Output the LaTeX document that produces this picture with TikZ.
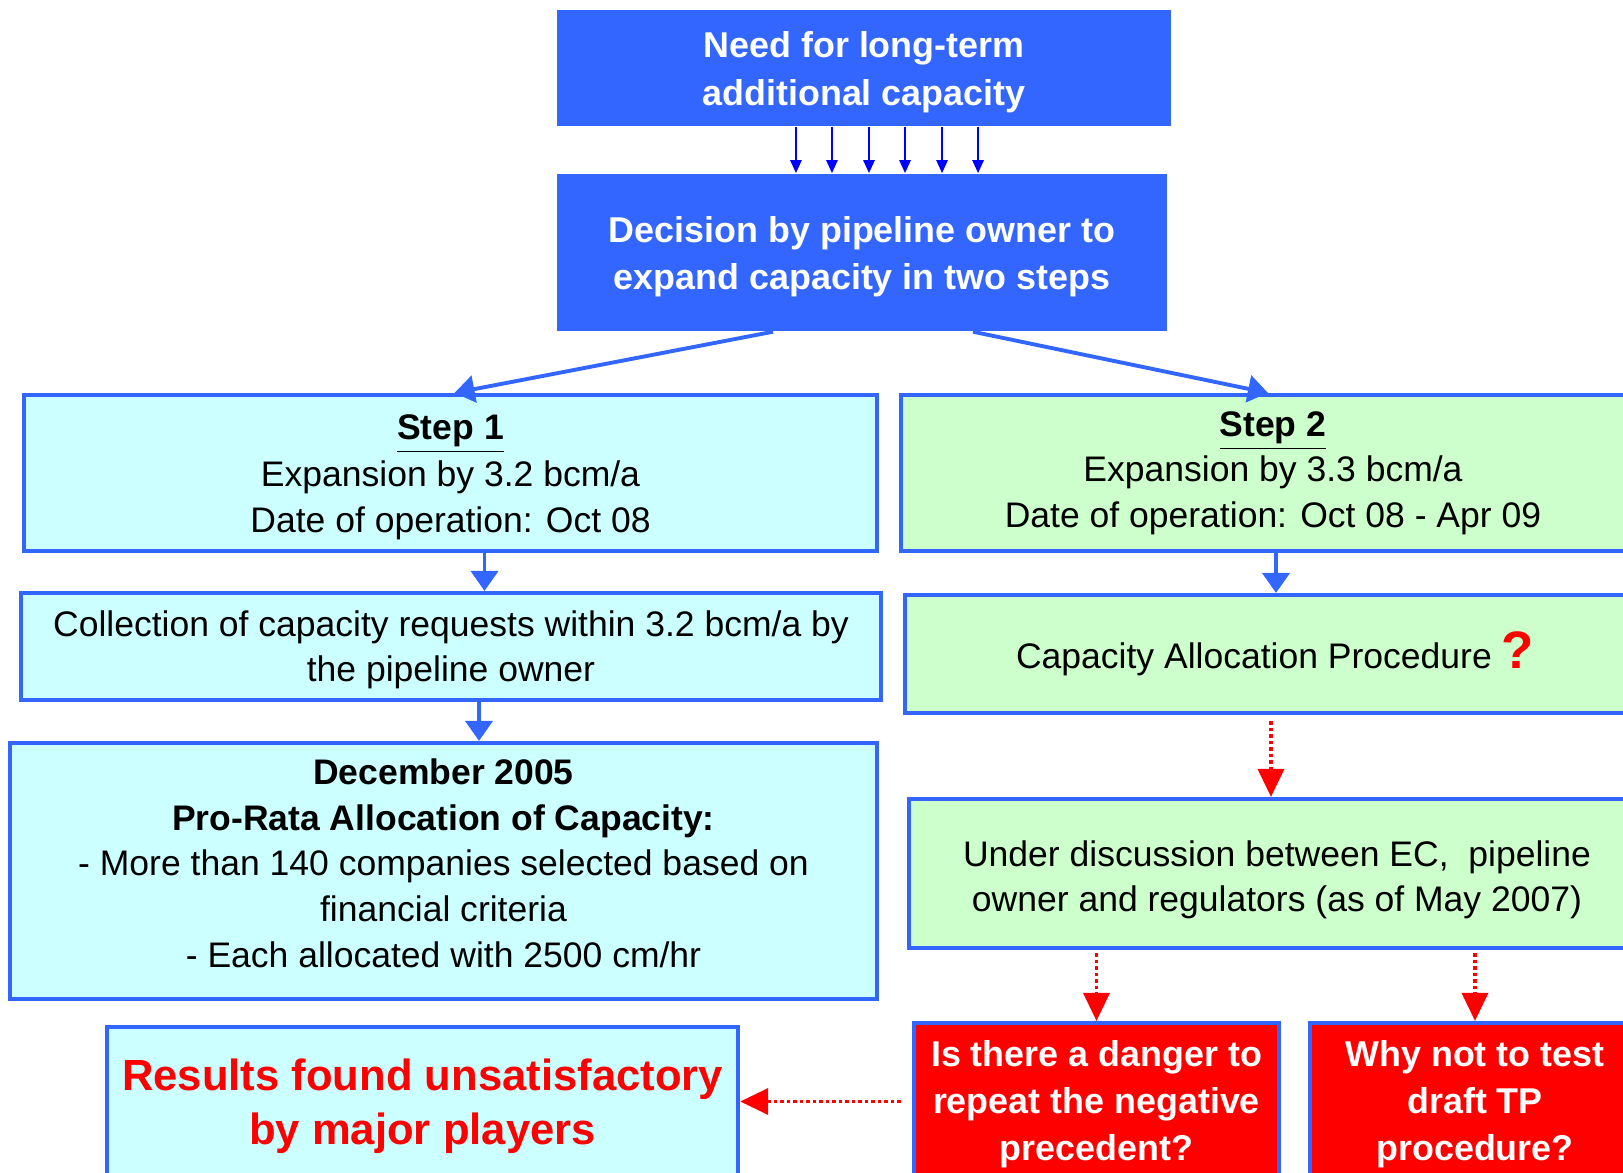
\documentclass[tikz,border=0pt]{standalone}
\usepackage{fontspec}
\setmainfont{Liberation Sans}
\usepackage{xcolor}
\usetikzlibrary{positioning,arrows.meta}

\definecolor{boxblue}{HTML}{3366FF}
\definecolor{lightcyan}{HTML}{CCFFFF}
\definecolor{lightgreen}{HTML}{CCFFCC}
\definecolor{arrowblue}{HTML}{0000FF}
\definecolor{askred}{HTML}{FF0000}

\tikzset{
    headbox/.style={fill=boxblue, text=white, align=center, inner sep=0pt,
        font=\fontsize{10.2}{13.5}\selectfont\bfseries},
    cyanbox/.style={draw=boxblue, line width=1.15pt, fill=lightcyan, align=center,
        inner sep=0pt, font=\fontsize{10.1}{12.9}\selectfont},
    greenbox/.style={cyanbox, fill=lightgreen},
    askbox/.style={draw=boxblue, line width=1.15pt, fill=askred, text=white, align=center,
        inner sep=0pt, font=\fontsize{10.2}{13.3}\selectfont\bfseries},
    bigarrow/.style={boxblue, line width=1.1pt, -{Triangle[width=0.27cm,length=0.2cm]}},
    thinarrow/.style={arrowblue, line width=0.7pt, -{Triangle[width=0.11cm,length=0.13cm]}},
    redarrow/.style={askred, line width=1pt, dash pattern=on 0.035cm off 0.03cm,
        -{Triangle[width=0.26cm,length=0.28cm]}},
}

\begin{document}
\begin{tikzpicture}[x=0.01cm, y=-0.01cm]
    \clip (0,0) rectangle (1623,1173);

    % top of the chart
    \node[headbox, minimum width=6.14cm, minimum height=1.16cm] (need) at (864,68)
        {\rule{0pt}{9.8pt}Need for long-term\\additional capacity};
    \node[headbox, minimum width=6.10cm, minimum height=1.57cm] (dec) at (862,252.5)
        {\rule{0pt}{9.8pt}Decision by pipeline owner to\\expand capacity in two steps};

    % step 1 column
    \node[cyanbox, minimum width=8.53cm, minimum height=1.56cm,
        font=\fontsize{10.1}{13.3}\selectfont] (step1) at (450.5,473)
        {\rule{0pt}{9.5pt}\underline{\textbf{Step 1}}\\Expansion by 3.2 bcm/a\\Date of operation: Oct 08};
    \node[cyanbox, minimum width=8.60cm, minimum height=1.07cm] (coll) at (451,646.5)
        {\rule{0pt}{9.2pt}Collection of capacity requests within 3.2 bcm/a by\\the pipeline owner};
    \node[cyanbox, minimum width=8.67cm, minimum height=2.56cm,
        font=\fontsize{10.1}{13}\selectfont] (dec05) at (443.5,871)
        {\textbf{December 2005}\\\textbf{Pro-Rata Allocation of Capacity:}\\
         - More than 140 companies selected based on\\financial criteria\\
         - Each allocated with 2500 cm/hr\rule[-4.6pt]{0pt}{4.6pt}};
    \node[cyanbox, minimum width=6.31cm, minimum height=1.58cm, text=askred,
        font=\fontsize{12.4}{15.4}\selectfont\bfseries] (result) at (422.5,1106)
        {Results found unsatisfactory\\by major players};

    % step 2 column
    \node[greenbox, minimum width=7.44cm, minimum height=1.56cm] (step2) at (1273,473)
        {\underline{\textbf{Step 2}}\\Expansion by 3.3 bcm/a\\Date of operation: Oct 08 - Apr 09};
    \node[greenbox, minimum width=7.40cm, minimum height=1.18cm] (alloc) at (1275,654)
        {Capacity Allocation Procedure {\color{askred}\fontsize{15}{15}\selectfont\bfseries ?}};
    \node[greenbox, minimum width=7.36cm, minimum height=1.49cm] (talks) at (1277,873.5)
        {\rule{0pt}{11pt}Under discussion between EC,\ \ pipeline\\owner and regulators (as of May 2007)};
    \node[askbox, minimum width=3.65cm, minimum height=1.57cm] (danger) at (1096.5,1101.5)
        {\rule{0pt}{8.9pt}Is there a danger to\\repeat the negative\\precedent?};
    \node[askbox, minimum width=3.30cm, minimum height=1.57cm] (test) at (1475,1101.5)
        {\rule{0pt}{8.9pt}Why not to test\\draft TP\\procedure?};

    % connectors
    \foreach \dx in {-0.68,-0.32,0.05,0.41,0.78,1.14} {
        \draw[thinarrow] ([xshift=\dx cm]need.south) -- ([xshift=\dx cm]need.south |- dec.north);
    }
    \draw[bigarrow] ([xshift=-0.89cm]dec.south) -- ([xshift=0.04cm]step1.north);
    \draw[bigarrow] ([xshift=1.11cm]dec.south) -- ([xshift=-0.05cm]step2.north);
    \draw[bigarrow] ([xshift=0.34cm]step1.south) -- ([xshift=0.34cm]step1.south |- coll.north);
    \draw[bigarrow] ([xshift=0.28cm]coll.south) -- ([xshift=0.28cm]coll.south |- dec05.north);
    \draw[bigarrow] ([xshift=0.03cm]step2.south) -- ([xshift=0.03cm]step2.south |- alloc.north);
    \draw[redarrow, shorten <=0.06cm] ([xshift=-0.04cm]alloc.south) -- ([xshift=-0.04cm]alloc.south |- talks.north);
    \draw[redarrow, shorten <=0.03cm] (danger.north |- talks.south) -- (danger.north);
    \draw[redarrow, shorten <=0.03cm] (test.north |- talks.south) -- (test.north);
    \draw[redarrow, shorten <=0.11cm] (danger.west) -- (danger.west -| result.east);
\end{tikzpicture}
\end{document}
